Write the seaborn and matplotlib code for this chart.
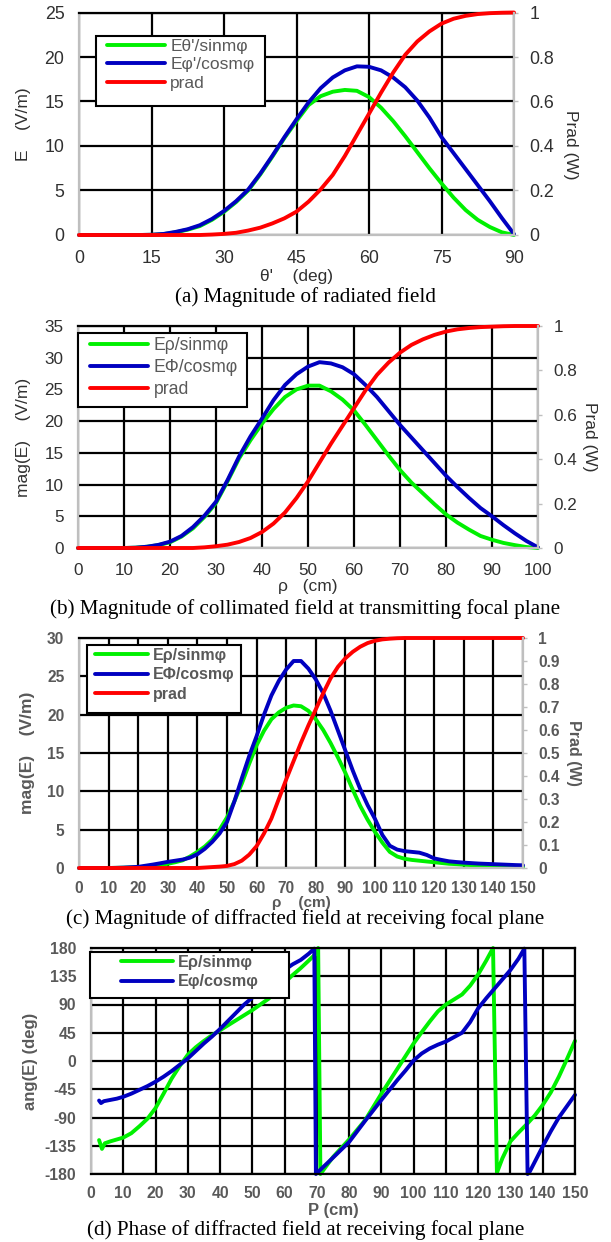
import matplotlib
matplotlib.use("Agg")
import matplotlib.pyplot as plt
from matplotlib.patches import Rectangle
import seaborn as sns

# ====================== values ======================
# (a) radiated field vs theta'
theta_a = [0, 2.5, 5, 7.5, 10, 12.5, 15, 17.5, 20, 22.5, 25, 27.5, 30, 32.5, 35, 37.5, 40,
           42.5, 45, 47.5, 50, 52.5, 55, 57.5, 60, 62.5, 65, 67.5, 70, 72.5, 75, 77.5, 80,
           82.5, 85, 87.5, 90]
e_theta_a = [0, 0, 0, 0, 0, 0, 0.02, 0.1, 0.3, 0.6, 1.0, 1.7, 2.6, 3.7, 5.0, 6.8, 8.8,
             10.9, 12.8, 14.6, 15.6, 16.1, 16.3, 16.2, 15.5, 14.3, 12.8, 11.1, 9.3, 7.5, 5.8,
             4.2, 2.8, 1.7, 0.9, 0.3, 0]
e_phi_a = [0, 0, 0, 0, 0, 0, 0.03, 0.12, 0.35, 0.65, 1.1, 1.8, 2.7, 3.8, 5.1, 6.9, 8.9,
           11.0, 13.0, 14.9, 16.5, 17.7, 18.5, 18.95, 18.9, 18.5, 17.7, 16.6, 15.1, 13.2,
           11.0, 9.2, 7.4, 5.6, 3.8, 1.9, 0.1]
prad_a = [0, 0, 0, 0, 0, 0, 0, 0, 0, 0, 0, 0.002, 0.005, 0.01, 0.02, 0.033, 0.052, 0.075,
          0.105, 0.15, 0.205, 0.27, 0.355, 0.45, 0.545, 0.64, 0.73, 0.81, 0.87, 0.915, 0.95,
          0.972, 0.985, 0.993, 0.997, 0.999, 1.0]

# (b) collimated field vs rho
rho_b = [0, 2.5, 5, 7.5, 10, 12.5, 15, 17.5, 20, 22.5, 25, 27.5, 30, 32.5, 35, 37.5, 40,
         42.5, 45, 47.5, 50, 52.5, 55, 57.5, 60, 62.5, 65, 67.5, 70, 72.5, 75, 77.5, 80,
         82.5, 85, 87.5, 90, 92.5, 95, 97.5, 100]
e_rho_b = [0, 0, 0, 0, 0, 0.05, 0.2, 0.45, 0.9, 1.8, 3.1, 4.9, 7.1, 10.5, 14.1, 17.0, 19.6,
           21.9, 23.8, 25.0, 25.6, 25.6, 24.7, 23.4, 21.7, 19.4, 17.0, 14.6, 12.3, 10.3, 8.6,
           6.9, 5.3, 4.0, 2.9, 1.9, 1.3, 0.8, 0.45, 0.15, 0]
e_phi_b = [0, 0, 0, 0, 0, 0.05, 0.2, 0.5, 1.0, 1.9, 3.3, 5.1, 7.3, 10.7, 14.4, 17.6, 20.4,
           23.3, 25.7, 27.4, 28.6, 29.3, 29.1, 28.5, 27.4, 25.7, 23.8, 21.6, 19.4, 17.4, 15.4,
           13.4, 11.4, 9.6, 7.9, 6.3, 5.0, 3.6, 2.3, 1.1, 0.1]
prad_b = [0, 0, 0, 0, 0, 0, 0, 0, 0, 0, 0, 0.003, 0.008, 0.015, 0.027, 0.045, 0.072, 0.11,
          0.16, 0.225, 0.3, 0.385, 0.47, 0.55, 0.63, 0.71, 0.78, 0.835, 0.88, 0.915, 0.94,
          0.96, 0.975, 0.985, 0.991, 0.995, 0.997, 0.999, 1.0, 1.0, 1.0]

# (c) diffracted field magnitude vs rho
rho_c = [0, 2.5, 5, 7.5, 10, 12.5, 15, 17.5, 20, 22.5, 25, 27.5, 30, 32.5, 35, 37.5, 40,
         42.5, 45, 47.5, 50, 52.5, 55, 57.5, 60, 62.5, 65, 67.5, 70, 72.5, 75, 77.5, 80,
         82.5, 85, 87.5, 90, 92.5, 95, 97.5, 100, 102.5, 105, 107.5, 110, 112.5, 115, 117.5,
         120, 122.5, 125, 127.5, 130, 132.5, 135, 137.5, 140, 142.5, 145, 147.5, 150]
e_rho_c = [0, 0, 0, 0, 0, 0.02, 0.04, 0.07, 0.1, 0.17, 0.25, 0.38, 0.55, 0.75, 1.0, 1.5, 2.1,
           2.8, 3.7, 5.0, 6.6, 8.7, 11.0, 13.6, 16.0, 17.9, 19.4, 20.3, 20.9, 21.2, 21.1, 20.5,
           19.4, 18.0, 16.3, 14.4, 12.4, 10.2, 8.1, 6.3, 4.7, 3.3, 2.1, 1.5, 1.2, 1.05, 0.95,
           0.85, 0.75, 0.65, 0.55, 0.5, 0.43, 0.38, 0.33, 0.29, 0.25, 0.22, 0.19, 0.17, 0.15]
e_phi_c = [0, 0, 0, 0, 0, 0.02, 0.05, 0.1, 0.15, 0.3, 0.45, 0.62, 0.8, 0.95, 1.1, 1.35, 1.8,
           2.5, 3.4, 4.5, 6.0, 8.7, 11.7, 14.6, 17.2, 20.0, 22.5, 24.4, 25.9, 27.0, 27.0, 26.0,
           24.6, 22.8, 20.5, 17.9, 15.3, 12.7, 10.3, 8.2, 6.4, 4.3, 2.9, 2.4, 2.2, 2.1, 2.0,
           1.7, 1.25, 1.05, 0.87, 0.78, 0.7, 0.64, 0.58, 0.54, 0.5, 0.46, 0.42, 0.38, 0.35]
prad_c = [0, 0, 0, 0, 0, 0, 0, 0, 0, 0, 0, 0, 0, 0, 0, 0, 0, 0.002, 0.004, 0.006, 0.009,
          0.017, 0.032, 0.058, 0.095, 0.15, 0.215, 0.30, 0.385, 0.465, 0.545, 0.62, 0.69, 0.76,
          0.825, 0.875, 0.912, 0.94, 0.962, 0.978, 0.988, 0.994, 0.997, 0.999, 1.0, 1.0, 1.0,
          1.0, 1.0, 1.0, 1.0, 1.0, 1.0, 1.0, 1.0, 1.0, 1.0, 1.0, 1.0, 1.0, 1.0]

# (d) diffracted field phase (each curve has its own wrap points)
p_green_d = [2.5, 3.4, 4.3, 6, 8, 10, 12.5, 15, 17.5, 20, 22.5, 25, 27.5, 30, 32.5, 35, 37.5,
             40, 42.5, 45, 47.5, 50, 52.5, 55, 57.5, 60, 62.5, 65, 67.5, 69.5, 70.4, 71.1, 75,
             80, 85, 90, 95, 97.5, 100, 102.5, 105, 107.5, 110, 112.5, 115, 117.5, 120, 122.5,
             124.6, 125.8, 127.5, 130, 132.5, 135, 137.5, 140, 142.5, 145, 147.5, 150]
ang_green_d = [-126, -140, -131, -128, -125, -122, -115, -104, -92, -75, -52, -28, -8, 10, 22,
               32, 41, 49, 57, 65, 73, 81, 90, 99, 111, 125, 137, 148, 160, 170, 180, -180,
               -153, -125, -94, -52, -12, 8, 28, 46, 63, 79, 90, 98, 106, 120, 138, 160, 180,
               -178, -155, -128, -114, -101, -87, -70, -50, -25, 3, 32]
p_blue_d = [2.5, 3.1, 4, 6, 8, 10, 12.5, 15, 17.5, 20, 22.5, 25, 27.5, 30, 32.5, 35, 37.5, 40,
            42.5, 45, 47.5, 50, 52.5, 55, 57.5, 60, 62.5, 65, 67.5, 69.2, 69.7, 75, 80, 85, 90,
            95, 97.5, 100, 102.5, 105, 107.5, 110, 112.5, 115, 117.5, 120, 122.5, 125, 127.5,
            130, 132.5, 134.3, 135.3, 136, 140, 142.5, 145, 147.5, 150]
ang_blue_d = [-63, -67, -64, -62, -60, -57, -52, -46, -40, -33, -25, -16, -6, 4, 16, 28, 39,
              51, 64, 77, 90, 101, 113, 124, 135, 145, 154, 161, 171, 179, -180, -154, -129,
              -95, -62, -30, -15, 1, 12, 20, 26, 31, 38, 45, 62, 84, 100, 115, 130, 145, 163,
              179, -180, -176, -136, -112, -90, -72, -54]

lab_a = ["Eθ'/sinmφ", "Eφ'/cosmφ", "prad"]
lab_bc = ["Eρ/sinmφ", "EΦ/cosmφ", "prad"]
lab_d = ["Eρ/sinmφ", "Eφ/cosmφ"]

captions = ["(a) Magnitude of radiated field",
            "(b) Magnitude of collimated field at transmitting focal plane",
            "(c) Magnitude of diffracted field at receiving focal plane",
            "(d) Phase of diffracted field at receiving focal plane"]

# ====================== style ======================
W, H = 611, 1242
sns.set_style("white")
plt.rcParams["font.family"] = ["Liberation Sans", "DejaVu Sans"]

GREEN, BLUE, RED = "#00F000", "#0000C0", "#FF0000"
EDGE = "#BFBFBF"
GREY = "#595959"
DARK = "#303030"
LW = 2.8

fig = plt.figure(figsize=(W / 100, H / 100), dpi=100)


def axes_px(l, r, t, b):
    return fig.add_axes([l / W, 1 - b / H, (r - l) / W, (b - t) / H])


def style(ax, xlim, xticks, ylim, yticks, fs, color, weight, xpad):
    ax.set_xlim(xlim)
    ax.set_ylim(ylim)
    ax.set_xticks(xticks, labels=[f"{v:g}" for v in xticks], fontweight=weight)
    ax.set_yticks(yticks, labels=[f"{v:g}" for v in yticks], fontweight=weight)
    ax.grid(True, color="black", linewidth=1.6)
    ax.set_axisbelow(True)
    ax.tick_params(axis="both", length=0, labelsize=fs, labelcolor=color)
    ax.tick_params(axis="x", pad=xpad)
    ax.tick_params(axis="y", pad=10.5)
    for s in ["left", "bottom"]:
        ax.spines[s].set_color(EDGE)
        ax.spines[s].set_linewidth(1.6)
    ax.spines["top"].set_color("black")
    ax.spines["top"].set_linewidth(1.6)
    ax.spines["right"].set_visible(False)


def right_axis(ax, yticks, fs, color, weight):
    ax2 = ax.twinx()
    ax2.set_ylim(0, 1)
    ax2.set_yticks(yticks, labels=[f"{v:g}" for v in yticks], fontweight=weight)
    ax2.tick_params(axis="y", length=3, width=1, color=EDGE, labelsize=fs,
                    labelcolor=color, pad=8)
    for s in ["left", "bottom", "top"]:
        ax2.spines[s].set_visible(False)
    ax2.spines["right"].set_color(EDGE)
    ax2.spines["right"].set_linewidth(1.6)
    ax2.grid(False)
    return ax2


def line(ax, x, y, color, label):
    sns.lineplot(x=x, y=y, ax=ax, color=color, linewidth=LW, label=label,
                 sort=False, estimator=None, clip_on=False)
    if ax.get_legend() is not None:
        ax.get_legend().remove()


def legend(ax, axes_list, frame, hx, row1, fs, weight, hl, ls):
    # frame = (left, right, top, bottom) of the legend box in pixels
    handles, labels = [], []
    for a in axes_list:
        h, lb = a.get_legend_handles_labels()
        handles += h
        labels += lb
    em = fs * 100 / 72
    leg = ax.legend(handles, labels, loc="upper left",
                    bbox_to_anchor=(hx / W, 1 - (row1 - 0.56 * em) / H),
                    bbox_transform=fig.transFigure, frameon=False,
                    borderaxespad=0, borderpad=0,
                    prop={"size": fs, "weight": weight}, labelcolor=GREY,
                    handlelength=hl, handletextpad=0.3, labelspacing=ls)
    leg.set_zorder(10)
    l, r, t, b = frame
    ax.add_patch(Rectangle((l / W, 1 - b / H), (r - l) / W, (b - t) / H,
                           transform=fig.transFigure, facecolor="white",
                           edgecolor="black", linewidth=1.5, zorder=9, clip_on=False))


def caption(text, y):
    fig.text(0.5, 1 - y / H, text, ha="center", va="center",
             family="Liberation Serif", fontsize=15.2, color="black")


# ====================== (a) ======================
box_a = (79, 514, 12.5, 235)
ax = axes_px(*box_a)
line(ax, theta_a, e_theta_a, GREEN, lab_a[0])
line(ax, theta_a, e_phi_a, BLUE, lab_a[1])
style(ax, (0, 90), [0, 15, 30, 45, 60, 75, 90], (0, 25), [0, 5, 10, 15, 20, 25],
      12.8, DARK, "normal", 11)
ax2 = right_axis(ax, [0, 0.2, 0.4, 0.6, 0.8, 1], 12.8, DARK, "normal")
line(ax2, theta_a, prad_a, RED, lab_a[2])
ax.set_xlabel("θ'    (deg)", fontsize=12.5, color=DARK, va="center")
ax.xaxis.set_label_coords(0.5, -(277 - 235) / (235 - 12.5))
ax.set_ylabel("E    (V/m)", fontsize=12.5, color=DARK, va="center")
ax.yaxis.set_label_coords((23 - 79) / 435, 0.5)
ax2.set_ylabel("Prad (W)", fontsize=12.5, color=DARK, rotation=270, va="center")
ax2.yaxis.set_label_coords((570 - 79) / 435, (235 - 145) / (235 - 12.5))
legend(ax2, [ax, ax2], (96, 265, 36, 106), 107, 48.3, 12.5, "normal", 3.35, 0.2)
caption(captions[0], 297)

# ====================== (b) ======================
box_b = (78, 538, 326, 548)
ax = axes_px(*box_b)
line(ax, rho_b, e_rho_b, GREEN, lab_bc[0])
line(ax, rho_b, e_phi_b, BLUE, lab_bc[1])
style(ax, (0, 100), list(range(0, 101, 10)), (0, 35), list(range(0, 36, 5)),
      12.3, DARK, "normal", 10.5)
ax2 = right_axis(ax, [0, 0.2, 0.4, 0.6, 0.8, 1], 12.3, DARK, "normal")
line(ax2, rho_b, prad_b, RED, lab_bc[2])
ax.set_xlabel("ρ   (cm)", fontsize=12.5, color=DARK, va="center")
ax.xaxis.set_label_coords(0.5, -(587 - 548) / (548 - 326))
ax.set_ylabel("mag(E)    (V/m)", fontsize=12.5, color=DARK, va="center")
ax.yaxis.set_label_coords((23.5 - 78) / 460, 0.5)
ax2.set_ylabel("Prad (W)", fontsize=12.5, color=DARK, rotation=270, va="center")
ax2.yaxis.set_label_coords((589 - 78) / 460, 0.5)
legend(ax2, [ax, ax2], (78, 247, 333, 407), 90, 346.7, 12.7, "normal", 3.3, 0.28)
caption(captions[1], 609)

# ====================== (c) ======================
box_c = (79, 523, 638, 868)
ax = axes_px(*box_c)
line(ax, rho_c, e_rho_c, GREEN, lab_bc[0])
line(ax, rho_c, e_phi_c, BLUE, lab_bc[1])
style(ax, (0, 150), list(range(0, 151, 10)), (0, 30), list(range(0, 31, 5)),
      11.2, GREY, "bold", 9.5)
ax2 = right_axis(ax, [0, 0.1, 0.2, 0.3, 0.4, 0.5, 0.6, 0.7, 0.8, 0.9, 1], 11.2, GREY, "bold")
line(ax2, rho_c, prad_c, RED, lab_bc[2])
ax.set_xlabel("ρ    (cm)", fontsize=11, color=GREY, fontweight="bold", va="center")
ax.xaxis.set_label_coords(0.5, -(903 - 868) / (868 - 638))
ax.set_ylabel("mag(E)    (V/m)", fontsize=12.5, color=GREY, fontweight="bold", va="center")
ax.yaxis.set_label_coords((27 - 79) / 444, 0.5)
ax2.set_ylabel("Prad (W)", fontsize=11.5, color=GREY, fontweight="bold", rotation=270,
               va="center")
ax2.yaxis.set_label_coords((573 - 79) / 444, 0.5)
legend(ax2, [ax, ax2], (87, 241, 645, 713), 95, 656.7, 11.5, "bold", 3.3, 0.29)
caption(captions[2], 919)

# ====================== (d) ======================
box_d = (91, 575, 948, 1174)
ax = axes_px(*box_d)
line(ax, p_green_d, ang_green_d, GREEN, lab_d[0])
line(ax, p_blue_d, ang_blue_d, BLUE, lab_d[1])
style(ax, (0, 150), list(range(0, 151, 10)), (-180, 180), list(range(-180, 181, 45)),
      11.3, GREY, "bold", 9)
ax.spines["bottom"].set_color("black")
ax.spines["right"].set_visible(True)
ax.spines["right"].set_color("black")
ax.spines["right"].set_linewidth(1.6)
ax.set_xlabel("P (cm)", fontsize=12, color=GREY, fontweight="bold", va="center")
ax.xaxis.set_label_coords(0.5, -(1210 - 1174) / (1174 - 948))
ax.set_ylabel("ang(E) (deg)", fontsize=12, color=GREY, fontweight="bold", va="center")
ax.yaxis.set_label_coords((30 - 91) / 484, 0.5)
legend(ax, [ax], (90, 289, 952, 998), 121, 964, 11.7, "bold", 3.2, 0.27)
caption(captions[3], 1230)

fig.savefig("out.png", dpi=100)
